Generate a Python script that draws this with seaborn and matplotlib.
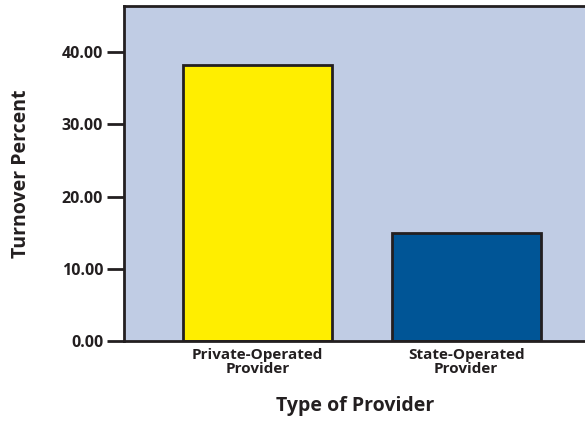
import pandas as pd
import matplotlib.pyplot as plt
import seaborn as sns

# datos del grafico
providers = ["Private-Operated\nProvider", "State-Operated\nProvider"]
turnover = [38.2, 15.0]
bar_colors = ["#ffee00", "#005596"]

data = pd.DataFrame({"Provider": providers, "Turnover": turnover})

sns.set_style("white")
plt.rcParams["font.family"] = ["Open Sans", "DejaVu Sans"]
txt = "#231f20"

fig = plt.figure(figsize=(5.85, 4.22), dpi=100)
ax = fig.add_axes([0.212, 0.192, 0.79, 0.794])
ax.set_facecolor("#c0cce4")

sns.barplot(data=data, x="Provider", y="Turnover", hue="Provider",
            palette=bar_colors, width=0.715, edgecolor="#231f20",
            linewidth=2, saturation=1, legend=False, ax=ax)

ax.set_ylim(0, 46.4)
ax.set_xlim(-0.64, 1.575)
ax.set_yticks([0, 10, 20, 30, 40])
ax.set_yticklabels([f"{v:.2f}" for v in [0, 10, 20, 30, 40]],
                   fontsize=11.5, fontweight="bold", color=txt)
ax.set_xticks([0, 1])
ax.set_xticklabels(providers, fontsize=11, fontweight="bold", color=txt,
                   linespacing=1.05)
ax.tick_params(axis="y", left=True, length=12, width=2, color=txt, pad=3)
ax.tick_params(axis="x", bottom=False, length=0, pad=5)

for side in ["left", "bottom", "top"]:
    ax.spines[side].set_color(txt)
    ax.spines[side].set_linewidth(2)
ax.spines["right"].set_visible(False)

ax.set_xlabel("Type of Provider", fontsize=14, fontweight="bold",
              color=txt, labelpad=14)
ax.set_ylabel("Turnover Percent", fontsize=14, fontweight="bold",
              color=txt, labelpad=22)

fig.savefig("out.png", dpi=100)
